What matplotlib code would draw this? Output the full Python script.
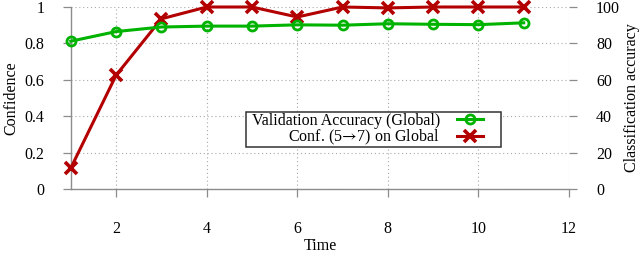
import matplotlib
matplotlib.use("Agg")
import matplotlib.pyplot as plt
from matplotlib.patches import Rectangle
from matplotlib.ticker import FuncFormatter

plt.rcParams['font.family'] = ['Liberation Serif', 'DejaVu Serif']
plt.rcParams['font.size'] = 11.5
plt.rcParams['mathtext.fontset'] = 'stix'

# data
time = [1, 2, 3, 4, 5, 6, 7, 8, 9, 10, 11]
val_acc = [81.2, 86.5, 89.0, 89.5, 89.5, 90.2, 90.0, 90.8, 90.5, 90.3, 91.3]
conf_5_7 = [0.115, 0.625, 0.935, 1.0, 1.0, 0.945, 1.0, 0.995, 1.0, 1.0, 1.0]
xticks = [2, 4, 6, 8, 10, 12]
conf_ticks = [0, 0.2, 0.4, 0.6, 0.8, 1]
acc_ticks = [0, 20, 40, 60, 80, 100]

green = '#00b300'
red = '#b30000'
gray = '#8c8c8c'

fig = plt.figure(figsize=(6.4, 2.54), dpi=100)
ax = fig.add_axes([70.8 / 640, 65 / 254, 498.2 / 640, 182 / 254])
ax2 = ax.twinx()

# red: confidence on the left axis
l_red, = ax.plot(time, conf_5_7, color=red, lw=2.2, marker='x', ms=8, mew=2.6,
                 clip_on=False, label=r'Conf. (5$\!\rightarrow\!$7) on Global', zorder=3)
# green: accuracy on the right axis
l_green, = ax2.plot(time, val_acc, color=green, lw=2.2, marker='o', ms=6.5, mew=2,
                    mfc='none', clip_on=False, label='Validation Accuracy (Global)', zorder=3)

ax.set_xlim(1, 12)
ax.set_ylim(0, 1)
ax2.set_ylim(0, 100)
ax.set_xticks(xticks)
ax.set_yticks(conf_ticks)
ax2.set_yticks(acc_ticks)
ax.yaxis.set_major_formatter(FuncFormatter(lambda v, p: '%g' % v))

ax.grid(True, linestyle=(0, (1, 2.5)), color='#a8a8a8', lw=0.8)
ax.set_axisbelow(True)

for s in ['top', 'right']:
    ax.spines[s].set_visible(False)
for s in ['left', 'bottom']:
    ax.spines[s].set_color(gray)
    ax.spines[s].set_linewidth(1.0)
for s in ax2.spines.values():
    s.set_visible(False)

ax.tick_params(axis='x', direction='out', length=6, width=0.9, color=gray, pad=17)
ax.tick_params(axis='y', direction='out', length=6, width=0.9, color=gray, pad=13)
ax2.tick_params(axis='y', direction='out', length=5.5, width=0.9, color=gray, pad=14)

ax.set_xlabel('Time', labelpad=1)
ax.set_ylabel('Confidence', labelpad=4)
ax2.set_ylabel('Classification accuracy', labelpad=3)

# legend frame and entries
ax2.add_patch(Rectangle((0.3517, 0.23), 0.5118, 0.192, transform=ax2.transAxes,
                        facecolor='white', edgecolor='#333333', lw=1.1, zorder=5,
                        clip_on=False))
leg = ax2.legend(handles=[l_green, l_red], loc='upper right',
                 bbox_to_anchor=(0.8274, 0.418), bbox_transform=ax2.transAxes,
                 frameon=False, markerfirst=False, borderpad=0, borderaxespad=0,
                 labelspacing=-0.05, handlelength=1.6, handletextpad=1.1, fontsize=11.5)
leg.set_zorder(6)

fig.savefig('out.png', dpi=100, facecolor='white')
